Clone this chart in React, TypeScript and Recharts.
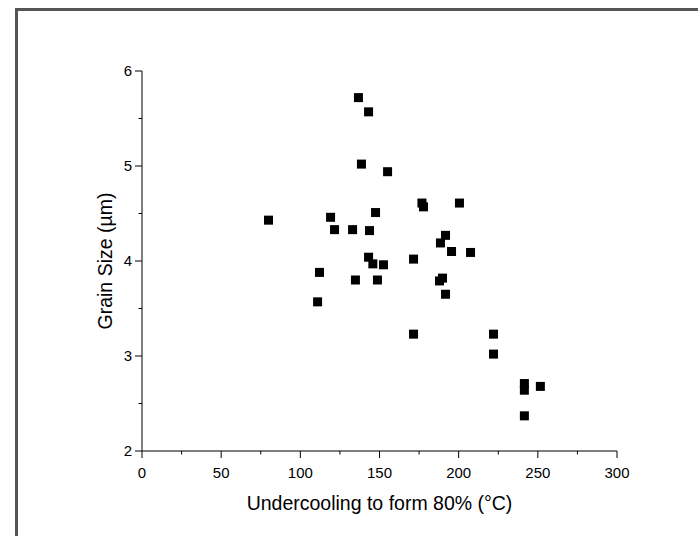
import * as React from "react";
import { Scatter, ScatterChart, XAxis, YAxis } from "recharts";

// undercooling to form 80% (°C) vs grain size (µm)
const undercooling = [
  136.7, 143.1, 138.6, 155.1, 176.8, 177.8, 200.5, 147.5, 119.1, 79.9, 121.6, 133.0,
  143.7, 191.7, 188.5, 195.5, 207.5, 143.1, 171.5, 145.8, 152.5, 112.1, 134.8, 148.7,
  189.8, 187.9, 191.7, 110.9, 171.5, 222.0, 222.0, 241.5, 241.5, 251.6, 241.5,
];
const grainSize = [
  5.72, 5.57, 5.02, 4.94, 4.61, 4.57, 4.61, 4.51, 4.46, 4.43, 4.33, 4.33,
  4.32, 4.27, 4.19, 4.1, 4.09, 4.04, 4.02, 3.97, 3.96, 3.88, 3.8, 3.8,
  3.82, 3.79, 3.65, 3.57, 3.23, 3.23, 3.02, 2.71, 2.64, 2.68, 2.37,
];

// major + minor ticks; labels only on the majors
const xTicks = [0, 25, 50, 75, 100, 125, 150, 175, 200, 225, 250, 275, 300];
const yTicks = [2, 2.5, 3, 3.5, 4, 4.5, 5, 5.5, 6];

const FONT = "'Liberation Sans', Arial, sans-serif";

const points = undercooling.map((x, i) => ({ x, y: grainSize[i] }));

function XTick(props: any) {
  const { x, y, payload } = props;
  const major = payload.value % 50 === 0;
  return (
    <g>
      <line x1={x} y1={y} x2={x} y2={y + (major ? 7 : 3.5)} stroke="#000" strokeWidth={1} />
      {major ? (
        <text x={x} y={y + 26.7} textAnchor="middle" fontSize={15} fontFamily={FONT} fill="#000">
          {payload.value}
        </text>
      ) : null}
    </g>
  );
}

function YTick(props: any) {
  const { x, y, payload } = props;
  const major = Number.isInteger(payload.value);
  return (
    <g>
      <line x1={x - (major ? 7 : 3.5)} y1={y} x2={x} y2={y} stroke="#000" strokeWidth={1} />
      {major ? (
        <text x={x - 10} y={y + 5.4} textAnchor="end" fontSize={15} fontFamily={FONT} fill="#000">
          {payload.value}
        </text>
      ) : null}
    </g>
  );
}

function Square(props: any) {
  const { cx, cy } = props;
  return <rect x={cx - 4.5} y={cy - 4.5} width={9} height={9} fill="#000" />;
}

export default function App() {
  return (
    <div
      style={{
        position: "absolute",
        left: 0,
        top: 0,
        width: 698,
        height: 536,
        overflow: "hidden",
        background: "#fff",
      }}
    >
      {/* panel frame, cut off on the right and bottom */}
      <div
        style={{
          position: "absolute",
          left: 15,
          top: 8,
          width: 720,
          height: 600,
          borderLeft: "3px solid #555",
          borderTop: "3px solid #555",
        }}
      />
      <div style={{ position: "absolute", left: 0, top: 0 }}>
        <ScatterChart width={698} height={536} margin={{ top: 71, right: 81, bottom: 25, left: 68 }}>
          <XAxis
            type="number"
            dataKey="x"
            domain={[0, 300]}
            ticks={xTicks}
            interval={0}
            height={60}
            tickSize={0}
            tickMargin={0}
            tickLine={false}
            tick={<XTick />}
            axisLine={{ stroke: "#000", strokeWidth: 1 }}
            allowDataOverflow
            label={{
              value: "Undercooling to form 80% (°C)",
              position: "insideBottom",
              offset: 1,
              fontSize: 19.5,
              fontFamily: FONT,
              fill: "#000",
            }}
          />
          <YAxis
            type="number"
            dataKey="y"
            domain={[2, 6]}
            ticks={yTicks}
            interval={0}
            width={74}
            tickSize={0}
            tickMargin={0}
            tickLine={false}
            tick={<YTick />}
            axisLine={{ stroke: "#000", strokeWidth: 1 }}
            allowDataOverflow
            label={{
              value: "Grain Size (µm)",
              angle: -90,
              position: "center",
              fontSize: 19.5,
              fontFamily: FONT,
              fill: "#000",
            }}
          />
          <Scatter data={points} shape={<Square />} isAnimationActive={false} />
        </ScatterChart>
      </div>
    </div>
  );
}
